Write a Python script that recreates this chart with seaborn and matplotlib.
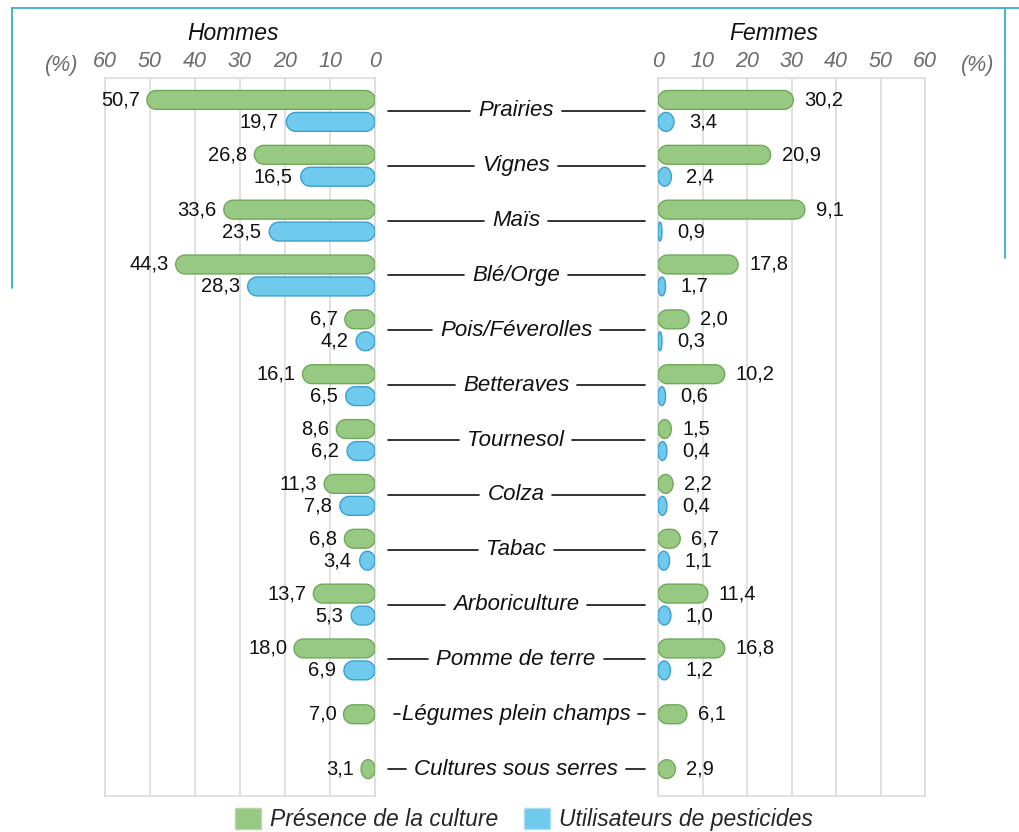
import numpy as np
import pandas as pd
import matplotlib
matplotlib.use("Agg")
import matplotlib.pyplot as plt
import seaborn as sns
from matplotlib.patches import Polygon, Patch
from matplotlib.lines import Line2D

# ---------------- data ----------------
categories = ["Prairies", "Vignes", "Maïs", "Blé/Orge", "Pois/Féverolles", "Betteraves",
              "Tournesol", "Colza", "Tabac", "Arboriculture", "Pomme de terre",
              "Légumes plein champs", "Cultures sous serres"]
series = ["Présence de la culture", "Utilisateurs de pesticides"]

# Hommes (values printed = bar lengths)
hommes_presence = [50.7, 26.8, 33.6, 44.3, 6.7, 16.1, 8.6, 11.3, 6.8, 13.7, 18.0, 7.0, 3.1]
hommes_pesticides = [19.7, 16.5, 23.5, 28.3, 4.2, 6.5, 6.2, 7.8, 3.4, 5.3, 6.9, np.nan, np.nan]

# Femmes: printed values
femmes_presence = [30.2, 20.9, 9.1, 17.8, 2.0, 10.2, 1.5, 2.2, 6.7, 11.4, 16.8, 6.1, 2.9]
femmes_pesticides = [3.4, 2.4, 0.9, 1.7, 0.3, 0.6, 0.4, 0.4, 1.1, 1.0, 1.2, np.nan, np.nan]
# Femmes: bar lengths as drawn in the original figure
femmes_presence_bar = [30.4, 25.3, 33.0, 18.0, 7.0, 15.0, 3.0, 3.4, 5.0, 11.2, 15.0, 6.5, 3.9]
femmes_pesticides_bar = [3.6, 3.0, 0.9, 1.7, 0.9, 1.7, 2.0, 2.0, 2.6, 2.9, 2.8, np.nan, np.nan]

xticks = [0, 10, 20, 30, 40, 50, 60]

# ---------------- style ----------------
sns.set_theme(style="white")
plt.rcParams["font.family"] = ["Liberation Sans", "DejaVu Sans"]

GREEN = "#98c983"
GREEN_EDGE = "#6fa85a"
BLUE = "#6fcaee"
BLUE_EDGE = "#3b9fd0"
GRID = "#d9d9d9"
palette = {series[0]: GREEN, series[1]: BLUE}
edges = {GREEN: GREEN_EDGE, BLUE: BLUE_EDGE}

W, H = 1020, 832
fig = plt.figure(figsize=(W / 100, H / 100), dpi=100)

top_px, bot_px = 78, 796
axL = fig.add_axes([105 / W, 1 - bot_px / H, 270 / W, (bot_px - top_px) / H])
axR = fig.add_axes([658 / W, 1 - bot_px / H, 267 / W, (bot_px - top_px) / H])


def long_df(a, b):
    return pd.DataFrame({
        "cat": categories * 2,
        "serie": [series[0]] * len(categories) + [series[1]] * len(categories),
        "val": list(a) + list(b),
    })


dfL = long_df(hommes_presence, hommes_pesticides)
dfR = long_df(femmes_presence_bar, femmes_pesticides_bar)

for ax, df in ((axL, dfL), (axR, dfR)):
    sns.barplot(data=df, y="cat", x="val", hue="serie", hue_order=series, order=categories,
                palette=palette, orient="h", width=0.8, gap=0.14, legend=False, ax=ax,
                saturation=1)

axL.set_xlim(60, 0)
axR.set_xlim(0, 60)

n = len(categories)
for ax in (axL, axR):
    ax.set_ylim(n - 0.51, -0.6)
    ax.set_xticks(xticks)
    ax.set_xticklabels([str(t) for t in xticks], fontstyle="italic", color="#6b6b6b",
                       fontsize=15.5)
    ax.xaxis.tick_top()
    ax.tick_params(axis="x", length=0, pad=4)
    ax.set_yticks([])
    ax.set_xlabel("")
    ax.set_ylabel("")
    ax.grid(axis="x", color=GRID, linewidth=1.1)
    ax.set_axisbelow(True)
    for s in ax.spines.values():
        s.set_color(GRID)
        s.set_linewidth(1.1)

single_rows = [i for i in range(n) if not np.isfinite(hommes_pesticides[i])]

# ---------- turn the bars into capsules ----------
fig.canvas.draw()
green_center = {}
for ax in (axL, axR):
    bb = ax.get_window_extent()
    px_x = bb.width / 60.0
    y0, y1 = ax.get_ylim()
    px_y = bb.height / abs(y0 - y1)
    for p in list(ax.patches):
        x, y, w, h = p.get_x(), p.get_y(), p.get_width(), p.get_height()
        fc = matplotlib.colors.to_hex(p.get_facecolor())
        p.remove()
        if not np.isfinite(w) or w <= 0:
            continue
        cy = y + h / 2.0
        row = int(round(cy))
        if fc == GREEN and row in single_rows:
            cy = row
        ec = edges.get(fc, "#666666")
        ry = h / 2.0
        rx = min(w / 2.0, (h * px_y / 2.0) / px_x)
        t1 = np.linspace(-np.pi / 2, np.pi / 2, 40)
        t2 = np.linspace(np.pi / 2, 3 * np.pi / 2, 40)
        xs = np.concatenate([x + w - rx + rx * np.cos(t1), x + rx + rx * np.cos(t2)])
        ys = np.concatenate([cy + ry * np.sin(t1), cy + ry * np.sin(t2)])
        ax.add_patch(Polygon(np.column_stack([xs, ys]), closed=True, facecolor=fc,
                             edgecolor=ec, linewidth=1.0, zorder=3))
        if fc == GREEN:
            green_center[row] = cy

# ---------- value labels ----------
def fmt(v):
    return f"{v:.1f}".replace(".", ",")

off = 0.2
lab = dict(va="center", fontsize=14.5, color="#111111", textcoords="offset pixels")
for i in range(n):
    gy = green_center.get(i, i - off)
    axL.annotate(fmt(hommes_presence[i]), xy=(hommes_presence[i], gy), xytext=(-7, 0),
                 ha="right", **lab)
    if np.isfinite(hommes_pesticides[i]):
        axL.annotate(fmt(hommes_pesticides[i]), xy=(hommes_pesticides[i], i + off),
                     xytext=(-8, 0), ha="right", **lab)
    axR.annotate(fmt(femmes_presence[i]), xy=(femmes_presence_bar[i], gy), xytext=(11, 0),
                 ha="left", **lab)
    if np.isfinite(femmes_pesticides[i]):
        axR.annotate(fmt(femmes_pesticides[i]), xy=(femmes_pesticides_bar[i], i + off),
                     xytext=(15, 0), ha="left", **lab)

# ---------- axis % markers and titles ----------
fig.text(62 / W, 1 - 65 / H, "(%)", ha="center", va="center", fontstyle="italic",
         color="#6b6b6b", fontsize=15.5)
fig.text(978 / W, 1 - 65 / H, "(%)", ha="center", va="center", fontstyle="italic",
         color="#6b6b6b", fontsize=15.5)
fig.text(233 / W, 1 - 33 / H, "Hommes", ha="center", va="center", fontstyle="italic",
         color="#111111", fontsize=16.5)
fig.text(774 / W, 1 - 33 / H, "Femmes", ha="center", va="center", fontstyle="italic",
         color="#111111", fontsize=16.5)

# ---------- category labels with leader lines ----------
renderer = fig.canvas.get_renderer()
for i, c in enumerate(categories):
    ydisp = axL.transData.transform((0, i))[1]
    yf = ydisp / H
    t = fig.text(516 / W, yf, c, ha="center", va="center", fontstyle="italic",
                 fontsize=16, color="#111111")
    ext = t.get_window_extent(renderer=renderer)
    gap = 8
    l0, l1 = 388, ext.x0 - gap
    if l1 - l0 < 6:
        l0, l1 = ext.x0 - 8, ext.x0 - 2
    r0, r1 = ext.x1 + gap, 645
    if r1 - r0 < 6:
        r0, r1 = ext.x1 + 2, ext.x1 + 8
    for a, b in ((l0, l1), (r0, r1)):
        fig.add_artist(Line2D([a / W, b / W], [yf, yf], color="#111111", linewidth=1.2,
                              transform=fig.transFigure))

# ---------- legend ----------
handles = [Patch(facecolor=GREEN, edgecolor="#b5d8a5"), Patch(facecolor=BLUE, edgecolor="#a9def3")]
fig.legend(handles, series, loc="lower center", bbox_to_anchor=(524 / W, -0.002), ncol=2,
           frameon=False, prop={"style": "italic", "size": 16.5}, handlelength=1.15,
           handleheight=1.0, handletextpad=0.4, columnspacing=1.1, borderpad=0.1,
           borderaxespad=0.0)

# ---------- page frame decoration ----------
CY = "#3aaad6"
fig.add_artist(Line2D([12 / W, 1020 / W], [1 - 8 / H, 1 - 8 / H], color=CY, linewidth=1.3,
                      transform=fig.transFigure))
fig.add_artist(Line2D([12 / W, 12 / W], [1 - 8 / H, 1 - 288 / H], color=CY, linewidth=1.3,
                      transform=fig.transFigure))
fig.add_artist(Line2D([1005 / W, 1005 / W], [1 - 8 / H, 1 - 258 / H], color=CY, linewidth=1.3,
                      transform=fig.transFigure))

fig.savefig("out.png", dpi=100, facecolor="white")
